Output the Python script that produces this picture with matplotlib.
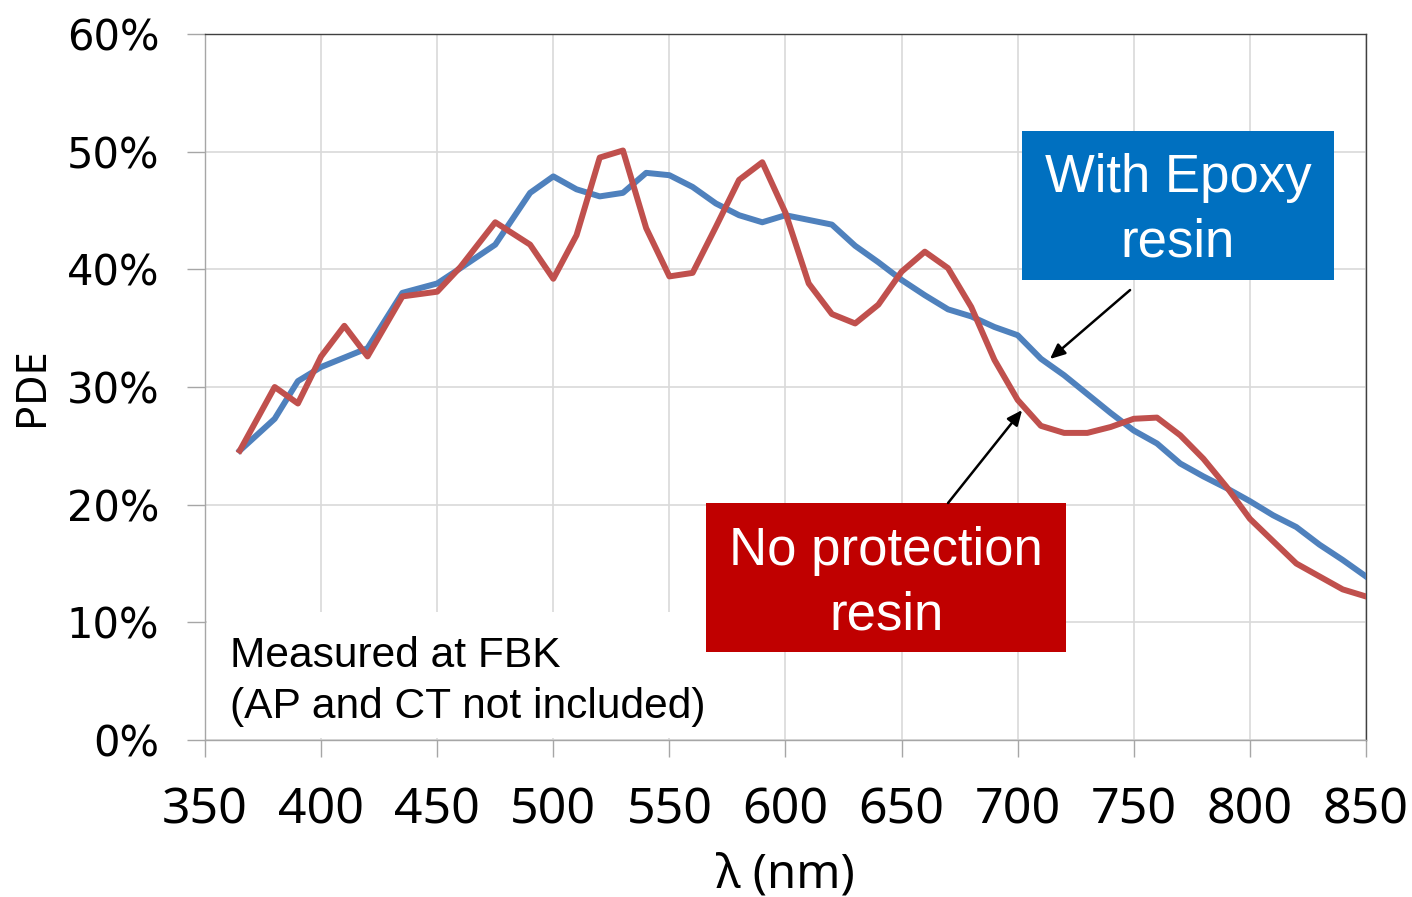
import matplotlib.pyplot as plt
from matplotlib.patches import Rectangle

# -------------------------------
# Daten (PDE in %)
# -------------------------------
wavelength = [365, 380, 390, 400, 410, 420, 435, 450, 460, 475, 490, 500, 510, 520,
              530, 540, 550, 560, 570, 580, 590, 600, 610, 620, 630, 640, 650, 660,
              670, 680, 690, 700, 710, 720, 730, 740, 750, 760, 770, 780, 790, 800,
              810, 820, 830, 840, 850]

pde_epoxy = [24.6, 27.3, 30.5, 31.7, 32.5, 33.3, 38.0, 38.8, 40.1, 42.1, 46.5, 47.9, 46.8, 46.2,
             46.5, 48.2, 48.0, 47.0, 45.6, 44.6, 44.0, 44.6, 44.2, 43.8, 42.0, 40.6, 39.1, 37.8,
             36.6, 36.0, 35.1, 34.4, 32.4, 31.0, 29.4, 27.8, 26.3, 25.2, 23.5, 22.4, 21.4, 20.3,
             19.1, 18.1, 16.6, 15.3, 13.9]

pde_no_resin = [24.6, 30.0, 28.6, 32.6, 35.2, 32.6, 37.7, 38.1, 40.2, 44.0, 42.1, 39.2, 42.9, 49.5,
                50.1, 43.5, 39.4, 39.7, 43.6, 47.6, 49.1, 44.8, 38.8, 36.2, 35.4, 37.0, 39.8, 41.5,
                40.1, 36.8, 32.3, 28.9, 26.7, 26.1, 26.1, 26.6, 27.3, 27.4, 25.9, 23.9, 21.5, 18.8,
                16.9, 15.0, 13.9, 12.8, 12.2]

x_ticks = [350, 400, 450, 500, 550, 600, 650, 700, 750, 800, 850]
y_ticks = [0, 10, 20, 30, 40, 50, 60]

# -------------------------------
# Diagramm
# -------------------------------
fig = plt.figure(figsize=(14.12, 8.97), dpi=100)
ax = fig.add_axes([0.1452, 0.175, 0.8222, 0.7871])

ax.plot(wavelength, pde_epoxy, color='#4F81BD', lw=4.3, solid_joinstyle='round', zorder=4)
ax.plot(wavelength, pde_no_resin, color='#C0504D', lw=4.3, solid_joinstyle='round', zorder=5)

ax.set_xlim(350, 850)
ax.set_ylim(0, 60)
ax.set_xticks(x_ticks)
ax.set_yticks(y_ticks)
ax.set_yticklabels([f"{v}%" for v in y_ticks], fontsize=30, family='DejaVu Sans')
ax.set_xticklabels([str(v) for v in x_ticks], fontsize=36, family='Noto Sans')
ax.tick_params(axis='y', length=13, width=1, color='#A6A6A6', pad=20)
ax.tick_params(axis='x', length=12, width=1, color='#A6A6A6', pad=21)

ax.grid(True, color='#D9D9D9', lw=1.2, zorder=0)
ax.set_axisbelow(True)
for side in ['left', 'bottom']:
    ax.spines[side].set_color('#A6A6A6')
for side in ['top', 'right']:
    ax.spines[side].set_color('#404040')
for sp in ax.spines.values():
    sp.set_linewidth(1.0)

ax.set_xlabel("λ (nm)", fontsize=34, family='Noto Sans', labelpad=11)
ax.set_ylabel("PDE", fontsize=30, family='Noto Sans', labelpad=10)

# Hinweis unten links (weißer Hintergrund über dem Gitter)
ax.add_patch(Rectangle((351, 0.2), 221, 10.7, facecolor='white', edgecolor='none', zorder=2))
ax.text(360.8, 6.2, "Measured at FBK", fontsize=30.6, family='Liberation Sans',
        va='baseline', ha='left', zorder=3)
ax.text(360.8, 1.85, "(AP and CT not included)", fontsize=30.6, family='Liberation Sans',
        va='baseline', ha='left', zorder=3)

# Beschriftungsboxen
ax.add_patch(Rectangle((701.9, 39.09), 134.3, 12.67, facecolor='#0070C0', edgecolor='none', zorder=6))
ax.text(769.0, 46.57, "With Epoxy", fontsize=38, color='white', family='Liberation Sans',
        ha='center', va='baseline', zorder=7)
ax.text(769.0, 41.13, "resin", fontsize=38, color='white', family='Liberation Sans',
        ha='center', va='baseline', zorder=7)

ax.add_patch(Rectangle((565.8, 7.48), 155.0, 12.66, facecolor='#C00000', edgecolor='none', zorder=6))
ax.text(643.3, 14.87, "No protection", fontsize=38, color='white', family='Liberation Sans',
        ha='center', va='baseline', zorder=7)
ax.text(643.3, 9.43, "resin", fontsize=38, color='white', family='Liberation Sans',
        ha='center', va='baseline', zorder=7)

# Pfeile
arrow = dict(arrowstyle='-|>,head_length=0.9,head_width=0.4', color='black', lw=1.8,
             shrinkA=0, shrinkB=0)
ax.annotate("", xy=(713.9, 32.38), xytext=(748.4, 38.24), arrowprops=arrow, zorder=8)
ax.annotate("", xy=(701.9, 28.04), xytext=(670.0, 20.14), arrowprops=arrow, zorder=8)

plt.savefig("out.png", dpi=100)
